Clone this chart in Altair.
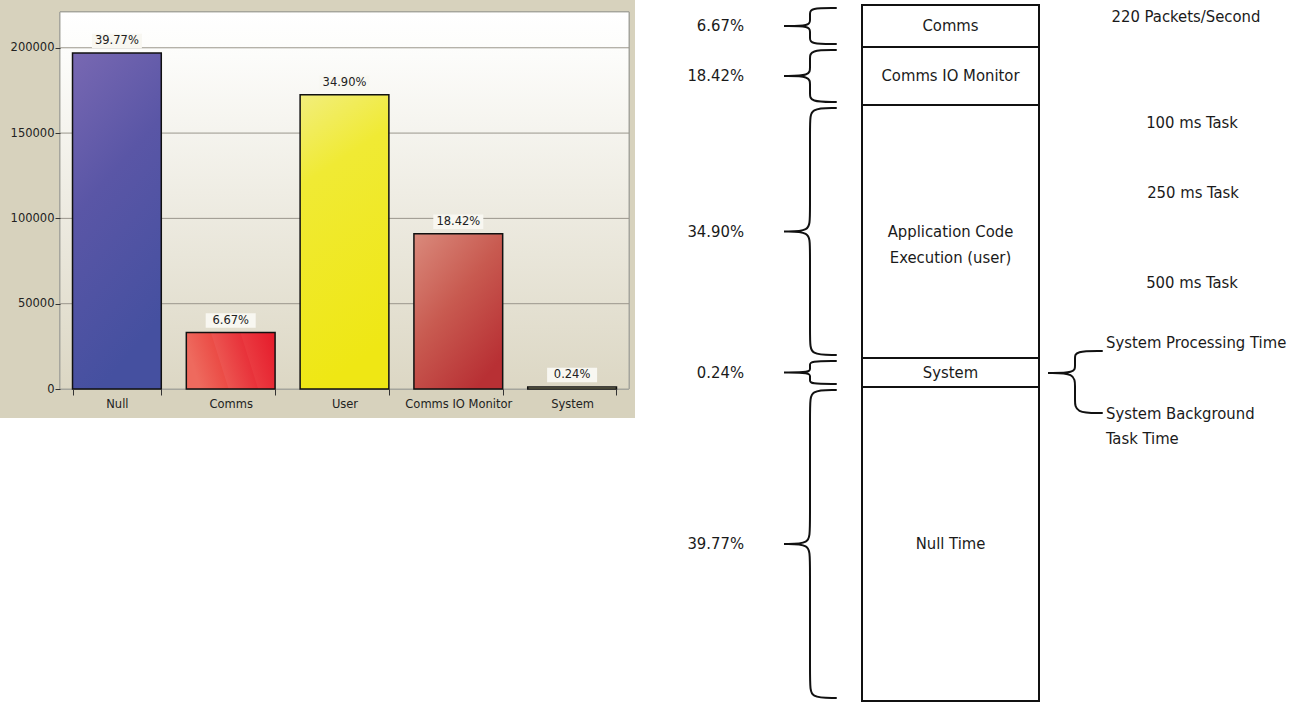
import altair as alt
import pandas as pd

# ---------------- data: left bar chart ----------------
categories = ["Null", "Comms", "User", "Comms IO Monitor", "System"]
cpu_counts = [197000, 33100, 172500, 91000, 1200]
pct_labels = ["39.77%", "6.67%", "34.90%", "18.42%", "0.24%"]
y_ticks = [0, 50000, 100000, 150000, 200000]

# ---------------- data: right diagram ----------------
block_names = ["Comms", "Comms IO Monitor", "Application Code\nExecution (user)", "System", "Null Time"]
block_pct = ["6.67%", "18.42%", "34.90%", "0.24%", "39.77%"]
block_rows = [42, 58, 253, 29, 314]          # schematic block heights (diagram units)
rate_notes = ["220 Packets/Second", "100 ms Task", "250 ms Task", "500 ms Task"]
rate_rows = [17, 123, 193, 283]              # rows of the notes (diagram units)
rate_cols = [546, 552, 553, 552]
system_notes = ["System Processing Time", "System Background\nTask Time"]
system_rows = [343, 414]

# ---------------- styling / layout ----------------
LFONT = "DejaVu Sans"
LSIZE = 11.5
RFONT = "DejaVu Sans Condensed"
RSIZE = 16.5
TAN = "#d7d2bd"
PW, PH = 569, 389          # left view
RW, RH = 651, 703          # right view
Y_TOP = 221000             # value at top border of the plot frame
Y_DOM = [0, 228000]

bar_df = pd.DataFrame({"cat": categories, "value": cpu_counts, "label": pct_labels})
grid_df = pd.DataFrame({"value": y_ticks[1:]})

x_enc = alt.X("cat:N", sort=categories,
              scale=alt.Scale(paddingInner=0.22, paddingOuter=0.11),
              axis=alt.Axis(title=None, labelAngle=0, tickBand="extent", domain=False,
                            ticks=True, tickSize=6, tickColor="#333333",
                            labelFont=LFONT, labelFontSize=LSIZE, labelColor="#222222",
                            labelPadding=3, zindex=1))
y_scale = alt.Scale(domain=Y_DOM, nice=False, zero=True)
y_axis = alt.Axis(title=None, values=y_ticks, grid=False, domain=False, tickSize=5,
                  tickColor="#333333", labelFont=LFONT, labelFontSize=LSIZE,
                  labelColor="#222222", labelPadding=1, minExtent=60, maxExtent=60,
                  format="d", zindex=1)
y_enc = alt.Y("value:Q", scale=y_scale, axis=y_axis)

frame = alt.Chart(bar_df).mark_rect(fill=TAN).encode(
    x=alt.value(-60), x2=alt.value(PW + 6), y=alt.value(0), y2=alt.value(418))

plot_bg = alt.Chart(bar_df).mark_rect(
    fill={"gradient": "linear", "x1": 0, "y1": 0, "x2": 0, "y2": 1,
          "stops": [{"offset": 0, "color": "#ffffff"},
                    {"offset": 0.12, "color": "#fcfcfa"},
                    {"offset": 1, "color": "#dcd7c4"}]},
    stroke="#a4a49c", strokeWidth=1).encode(
    x=alt.value(0), x2=alt.value(PW),
    y=alt.Y(datum=Y_TOP, type="quantitative", scale=y_scale, axis=y_axis),
    y2=alt.datum(0))

grid = alt.Chart(grid_df).mark_rule(color="#9a968c", strokeWidth=1).encode(
    y=y_enc, x=alt.value(0), x2=alt.value(PW))

gradients = {
    "Null": {"gradient": "linear", "x1": 0, "y1": 0, "x2": 0.3, "y2": 1,
             "stops": [{"offset": 0, "color": "#7868b2"},
                       {"offset": 0.45, "color": "#5a56a6"},
                       {"offset": 1, "color": "#4550a0"}]},
    "Comms": {"gradient": "linear", "x1": 0, "y1": 0.2, "x2": 1, "y2": 0,
              "stops": [{"offset": 0, "color": "#ee6a5e"},
                        {"offset": 0.3, "color": "#eb4c46"},
                        {"offset": 0.31, "color": "#ec5450"},
                        {"offset": 0.62, "color": "#e8323a"},
                        {"offset": 0.63, "color": "#ea3a40"},
                        {"offset": 1, "color": "#e51a2a"}]},
    "User": {"gradient": "linear", "x1": 0, "y1": 0, "x2": 0.2, "y2": 1,
             "stops": [{"offset": 0, "color": "#f2ee7c"},
                       {"offset": 0.3, "color": "#f0ea34"},
                       {"offset": 1, "color": "#efe714"}]},
    "Comms IO Monitor": {"gradient": "linear", "x1": 0, "y1": 0, "x2": 0.7, "y2": 1,
                         "stops": [{"offset": 0, "color": "#da8a7c"},
                                   {"offset": 0.5, "color": "#c85a50"},
                                   {"offset": 1, "color": "#b83034"}]},
    "System": {"gradient": "linear", "x1": 0, "y1": 0, "x2": 0, "y2": 1,
               "stops": [{"offset": 0, "color": "#f4f0c0"},
                         {"offset": 1, "color": "#e6e0a0"}]},
}

bar_layers = []
for c in categories:
    bar_layers.append(
        alt.Chart(bar_df).transform_filter(alt.datum.cat == c)
        .mark_bar(fill=gradients[c], stroke="#111111", strokeWidth=1.5)
        .encode(x=x_enc, y=y_enc))

label_box = alt.Chart(bar_df).mark_point(
    shape="M-1,-0.29H1V0.29H-1Z", size=2500, filled=True, fill="#f8f7f1",
    opacity=1, strokeWidth=0, yOffset=-12).encode(x=x_enc, y=y_enc)

labels = alt.Chart(bar_df).mark_text(
    font=LFONT, fontSize=LSIZE, color="#222222", baseline="middle", dy=-12).encode(
    x=x_enc, y=y_enc, text="label:N")

left = alt.layer(frame, plot_bg, grid, *bar_layers, label_box, labels).properties(
    width=PW, height=PH)

# ---------------- right diagram ----------------
BOX_X0, BOX_X1, TOP = 222, 399, 5
xs = alt.Scale(domain=[0, RW], nice=False, zero=False)
ys = alt.Scale(domain=[0, RH], nice=False, zero=False, reverse=True)

y0s, y1s = [], []
cur = TOP
for h in block_rows:
    y0s.append(cur)
    cur += h
    y1s.append(cur)
seg_df = pd.DataFrame({
    "name": block_names, "pct": block_pct,
    "y0": y0s, "y1": y1s,
    "ym": [(a + b) / 2 for a, b in zip(y0s, y1s)],
    "x0": BOX_X0, "x1": BOX_X1, "xm": (BOX_X0 + BOX_X1) / 2,
    "px": 104,
})

# brace construction (left braces point at the percentage labels)
def brace(bid, x_end, x_spine, x_tip, y_top, y_tip, y_bot):
    r1 = min(14, (y_tip - y_top) / 3)
    r2 = min(14, (y_bot - y_tip) / 3)
    pts = [(x_end, y_top), (x_spine, y_top), (x_spine, y_top + r1),
           (x_spine, y_tip - r1), (x_spine, y_tip),
           (x_tip, y_tip), (x_tip, y_tip), (x_tip, y_tip),
           (x_spine, y_tip), (x_spine, y_tip + r2), (x_spine, y_bot - r2),
           (x_spine, y_bot), (x_end, y_bot)]
    return [{"brace": bid, "i": i, "x": x, "y": y} for i, (x, y) in enumerate(pts)]

rows = []
GAP = 3
for k, (a, b) in enumerate(zip(y0s, y1s)):
    rows += brace(f"L{k}", 196, 170, 144, a + GAP, (a + b) / 2, b - GAP)
rows += brace("R", 462, 435, 408, 351, 373, 413)
brace_df = pd.DataFrame(rows)
seg_df["ytip"] = seg_df["ym"]

rate_df = pd.DataFrame({"text": rate_notes, "y": rate_rows, "x": rate_cols})
sys_df = pd.DataFrame({"text": system_notes, "y": system_rows, "x": 466})

rects = alt.Chart(seg_df).mark_rect(fill="white", stroke="#111111", strokeWidth=2).encode(
    x=alt.X("x0:Q", scale=xs, axis=None), x2="x1:Q",
    y=alt.Y("y0:Q", scale=ys, axis=None), y2="y1:Q")

seg_text = alt.Chart(seg_df).mark_text(
    font=RFONT, fontSize=RSIZE, color="#1a1a1a", lineBreak="\n", lineHeight=26,
    baseline="middle").encode(
    x=alt.X("xm:Q", scale=xs, axis=None), y=alt.Y("ym:Q", scale=ys, axis=None), text="name:N")

pct_text = alt.Chart(seg_df).mark_text(
    font=RFONT, fontSize=RSIZE, color="#1a1a1a", align="right", baseline="middle").encode(
    x=alt.X("px:Q", scale=xs, axis=None), y=alt.Y("ytip:Q", scale=ys, axis=None), text="pct:N")

braces = alt.Chart(brace_df).mark_line(
    interpolate="basis", color="#111111", strokeWidth=2, strokeCap="round").encode(
    x=alt.X("x:Q", scale=xs, axis=None), y=alt.Y("y:Q", scale=ys, axis=None),
    order="i:Q", detail="brace:N")

rate_text = alt.Chart(rate_df).mark_text(
    font=RFONT, fontSize=RSIZE, color="#1a1a1a", baseline="middle").encode(
    x=alt.X("x:Q", scale=xs, axis=None), y=alt.Y("y:Q", scale=ys, axis=None), text="text:N")

sys_text = alt.Chart(sys_df).mark_text(
    font=RFONT, fontSize=RSIZE, color="#1a1a1a", align="left", baseline="middle",
    lineBreak="\n", lineHeight=25).encode(
    x=alt.X("x:Q", scale=xs, axis=None), y=alt.Y("y:Q", scale=ys, axis=None), text="text:N")

right = alt.layer(rects, seg_text, pct_text, braces, rate_text, sys_text).properties(
    width=RW, height=RH)

chart = alt.hconcat(left, right, spacing=5).properties(
    padding=0, background="white"
).configure_view(stroke=None).resolve_scale(x="independent", y="independent")

chart.save("out.html", embed_options={"renderer": "svg", "actions": False})
